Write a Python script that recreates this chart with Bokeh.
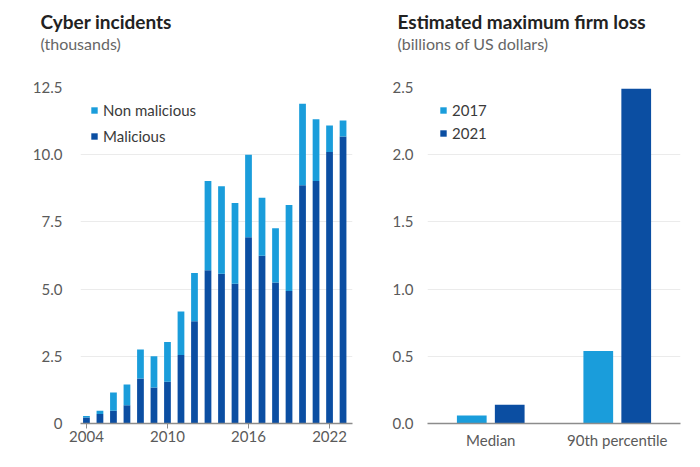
from bokeh.plotting import figure
from bokeh.models import (ColumnDataSource, Range1d, FixedTicker, NumeralTickFormatter,
                          Legend, LegendItem, Label, FactorRange)
from bokeh.layouts import row, column
from bokeh.transform import dodge
from bokeh.embed import file_html
from bokeh.resources import INLINE

# ---- data: Cyber incidents (thousands) ----
years = [2004, 2005, 2006, 2007, 2008, 2009, 2010, 2011, 2012, 2013,
         2014, 2015, 2016, 2017, 2018, 2019, 2020, 2021, 2022, 2023]
total_incidents = [0.28, 0.47, 1.15, 1.45, 2.75, 2.50, 3.03, 4.17, 5.60, 9.02,
                   8.83, 8.20, 10.00, 8.40, 7.26, 8.13, 11.90, 11.32, 11.09, 11.27]
malicious = [0.22, 0.35, 0.47, 0.68, 1.67, 1.34, 1.55, 2.55, 3.80, 5.70,
             5.57, 5.20, 6.93, 6.24, 5.25, 4.93, 8.86, 9.02, 10.10, 10.68]
year_ticks = [2004, 2010, 2016, 2022]
left_y_ticks = [0, 2.5, 5.0, 7.5, 10.0, 12.5]

# ---- data: Estimated maximum firm loss (billions of US dollars) ----
loss_categories = ["Median", "90th percentile"]
loss_2017 = [0.06, 0.54]
loss_2021 = [0.14, 2.49]
right_y_ticks = [0, 0.5, 1.0, 1.5, 2.0, 2.5]

LIGHT = "#1a9ddb"
DARK = "#0b4ea2"
FONT = "Lato"
TICK_COLOR = "#5a5a5a"
GRID_COLOR = "#ebebeb"
AXIS_COLOR = "#8c8c8c"

W1, W2 = 363, 321
HEAD_H = 60
CHART_H = 391


def header(width, title, subtitle, x0):
    h = figure(width=width, height=HEAD_H, output_backend="svg", toolbar_location=None,
               x_range=Range1d(0, width), y_range=Range1d(HEAD_H, 0),
               x_axis_location=None, y_axis_location=None, min_border=0)
    h.outline_line_color = None
    h.grid.visible = False
    h.add_layout(Label(x=x0, y=21, text=title, text_font=FONT, text_font_style="bold",
                       text_font_size="19px", text_color="#222222",
                       text_baseline="middle"))
    h.add_layout(Label(x=x0, y=43, text=subtitle, text_font=FONT,
                       text_font_size="16px", text_color="#666666",
                       text_baseline="middle"))
    return h


def style(p):
    p.outline_line_color = None
    p.background_fill_color = "white"
    p.border_fill_color = "white"
    p.xgrid.grid_line_color = None
    p.ygrid.grid_line_color = GRID_COLOR
    p.ygrid.grid_line_width = 1
    p.yaxis.axis_line_color = None
    p.yaxis.major_tick_line_color = None
    p.yaxis.minor_tick_line_color = None
    p.xaxis.minor_tick_line_color = None
    p.xaxis.axis_line_color = AXIS_COLOR
    p.xaxis.axis_line_width = 1.5
    for ax in (p.xaxis, p.yaxis):
        ax.major_label_text_font = FONT
        ax.major_label_text_font_size = "15px"
        ax.major_label_text_color = TICK_COLOR


# ---------------- left chart ----------------
src = ColumnDataSource(dict(
    year=years,
    malicious=malicious,
    non_malicious=[t - m for t, m in zip(total_incidents, malicious)],
))

p1 = figure(width=W1, height=CHART_H, output_backend="svg", toolbar_location=None,
            x_range=Range1d(2003.56, 2023.7), y_range=Range1d(0, 12.5),
            min_border_left=80, min_border_right=11, min_border_top=27,
            min_border_bottom=26)
style(p1)
r1 = p1.vbar_stack(["malicious", "non_malicious"], x="year", width=0.5,
                   color=[DARK, LIGHT], source=src, line_width=0)
p1.yaxis.ticker = FixedTicker(ticks=left_y_ticks)
p1.yaxis.formatter = NumeralTickFormatter(format="0.0")
p1.yaxis.major_label_overrides = {0: "0"}
p1.yaxis.major_label_standoff = 12
p1.xaxis.ticker = FixedTicker(ticks=year_ticks)
p1.xaxis.major_tick_line_color = AXIS_COLOR
p1.xaxis.major_tick_out = 5
p1.xaxis.major_tick_in = 0
p1.xaxis.major_label_standoff = 2

leg1 = Legend(items=[LegendItem(label="Non malicious", renderers=[r1[1]]),
                     LegendItem(label="Malicious", renderers=[r1[0]])],
              location=(10, 275), margin=0, padding=0, spacing=2,
              glyph_width=8, glyph_height=8, label_height=24, label_standoff=5,
              label_text_font=FONT, label_text_font_size="15px",
              label_text_color="#3a3a3a", background_fill_alpha=0,
              border_line_color=None)
p1.add_layout(leg1, "center")

# ---------------- right chart ----------------
src2 = ColumnDataSource(dict(cat=loss_categories, y2017=loss_2017, y2021=loss_2021))

p2 = figure(width=W2, height=CHART_H, output_backend="svg", toolbar_location=None,
            x_range=FactorRange(*loss_categories), y_range=Range1d(0, 2.5),
            min_border_left=64, min_border_right=4, min_border_top=27,
            min_border_bottom=26)
style(p2)
b17 = p2.vbar(x=dodge("cat", -0.15, range=p2.x_range), top="y2017", width=0.235,
              color=LIGHT, source=src2, line_width=0)
b21 = p2.vbar(x=dodge("cat", 0.15, range=p2.x_range), top="y2021", width=0.235,
              color=DARK, source=src2, line_width=0)
p2.yaxis.ticker = FixedTicker(ticks=right_y_ticks)
p2.yaxis.formatter = NumeralTickFormatter(format="0.0")
p2.yaxis.major_label_standoff = 8
p2.xaxis.major_tick_line_color = None
p2.xaxis.major_tick_out = 0
p2.xaxis.major_tick_in = 0
p2.xaxis.major_label_standoff = 7

leg2 = Legend(items=[LegendItem(label="2017", renderers=[b17]),
                     LegendItem(label="2021", renderers=[b21])],
              location=(12, 280), margin=0, padding=0, spacing=3,
              glyph_width=8, glyph_height=8, label_height=20, label_standoff=5,
              label_text_font=FONT, label_text_font_size="15px",
              label_text_color="#3a3a3a", background_fill_alpha=0,
              border_line_color=None)
p2.add_layout(leg2, "center")

h1 = header(W1, "Cyber incidents", "(thousands)", 40)
h2 = header(W2, "Estimated maximum firm loss", "(billions of US dollars)", 34)

layout = column(row(h1, h2), row(p1, p2))
open("out.html", "w").write(file_html(layout, INLINE))
